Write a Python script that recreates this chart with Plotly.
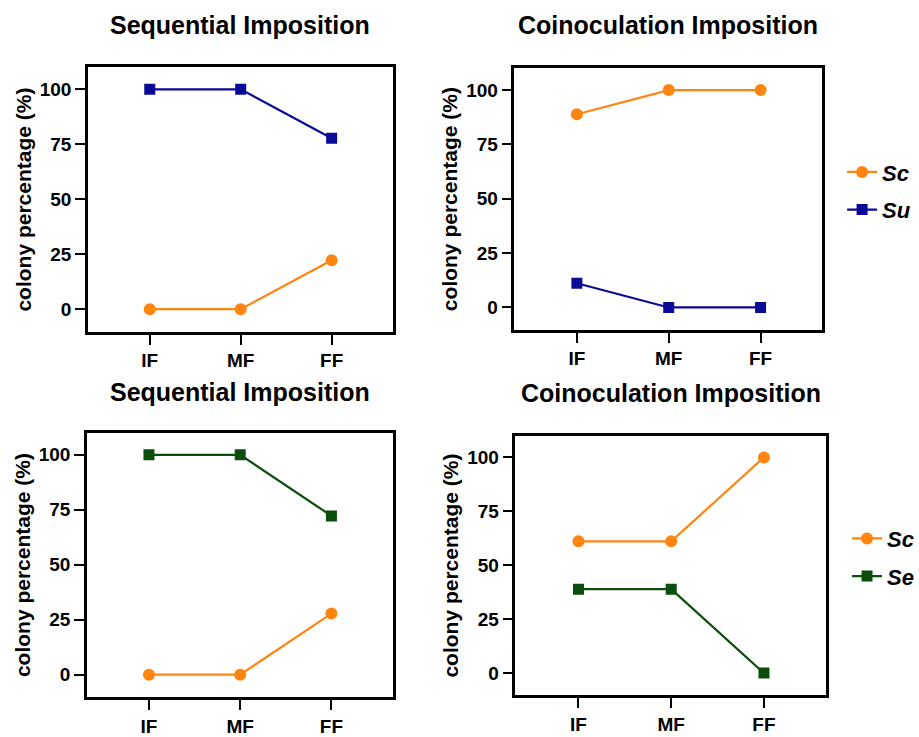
import plotly.graph_objects as go

categories = ["IF", "MF", "FF"]
seq_su_sc = [0, 0, 22.22]
seq_su_su = [100, 100, 77.78]
coi_su_sc = [88.89, 100, 100]
coi_su_su = [11.11, 0, 0]
seq_se_sc = [0, 0, 27.78]
seq_se_se = [100, 100, 72.22]
coi_se_sc = [61.11, 61.11, 100]
coi_se_se = [38.89, 38.89, 0]
y_ticks = [0, 25, 50, 75, 100]
titles = ["Sequential Imposition", "Coinoculation Imposition",
          "Sequential Imposition", "Coinoculation Imposition"]

ORANGE = "#FF8410"
BLUE = "#0A0A96"
GREEN = "#0B4E0B"
W, H = 919, 737
FONT = "Liberation Sans, Arial, sans-serif"

# panel frames in pixels: left, right, top, bottom
frames = [(88, 393, 68, 335), (515, 823, 69, 333),
          (87, 393, 437, 704), (516, 827, 440, 702)]
title_y = [25, 25, 396, 397]

fig = go.Figure()

def px_x(v):
    return v / W

def px_y(v):
    return 1 - v / H

panels = [
    [(seq_su_sc, "Sc", ORANGE, "circle"), (seq_su_su, "Su", BLUE, "square")],
    [(coi_su_sc, "Sc", ORANGE, "circle"), (coi_su_su, "Su", BLUE, "square")],
    [(seq_se_sc, "Sc", ORANGE, "circle"), (seq_se_se, "Se", GREEN, "square")],
    [(coi_se_sc, "Sc", ORANGE, "circle"), (coi_se_se, "Se", GREEN, "square")],
]
legend_for = {1: "legend", 3: "legend2"}

for i, (series, fr) in enumerate(zip(panels, frames)):
    n = "" if i == 0 else str(i + 1)
    l, r, t, b = fr
    for j, (vals, name, col, sym) in enumerate(series):
        show = i in legend_for
        fig.add_trace(go.Scatter(
            x=categories, y=vals, mode="lines+markers",
            name=f"<b><i>{name}</i></b>",
            line=dict(color=col, width=2.2),
            marker=dict(symbol=sym, size=12 if sym == "circle" else 11, color=col),
            xaxis="x" + n, yaxis="y" + n,
            showlegend=show,
            legend=legend_for.get(i, "legend"),
            legendgroup=f"g{i}{j}",
        ))
    axcommon = dict(showline=True, mirror=True, linecolor="black", linewidth=2.5,
                    ticks="outside", ticklen=10, tickwidth=2, tickcolor="black",
                    showgrid=False, zeroline=False,
                    tickfont=dict(family=FONT, size=19, color="black", weight="bold"))
    fig.layout["xaxis" + n] = dict(
        domain=[px_x(l), px_x(r)], anchor="y" + n,
        type="category", range=[-0.68, 2.67], **axcommon)
    fig.layout["yaxis" + n] = dict(
        domain=[px_y(b), px_y(t)], anchor="x" + n,
        range=[-10.3, 110], tickvals=y_ticks,
        title=dict(text="colony percentage (%)",
                   font=dict(family=FONT, size=21, color="black", weight="bold"),
                   standoff=3),
        **axcommon)
    fig.add_annotation(
        text=f"<b>{titles[i]}</b>", xref="paper", yref="paper",
        x=px_x((l + r) / 2), y=px_y(title_y[i]),
        xanchor="center", yanchor="middle",
        showarrow=False, font=dict(family=FONT, size=25, color="black"))

legend_style = dict(font=dict(family=FONT, size=22, color="black"),
                    bgcolor="rgba(0,0,0,0)", xanchor="left", yanchor="middle",
                    tracegroupgap=6, itemwidth=30)
fig.update_layout(
    width=W, height=H, autosize=False, margin=dict(l=0, r=0, t=0, b=0),
    paper_bgcolor="white", plot_bgcolor="white",
    legend=dict(x=px_x(843), y=px_y(193), **legend_style),
    legend2=dict(x=px_x(848), y=px_y(563), **legend_style),
)

fig.write_html("out.html", config={"responsive": False})
